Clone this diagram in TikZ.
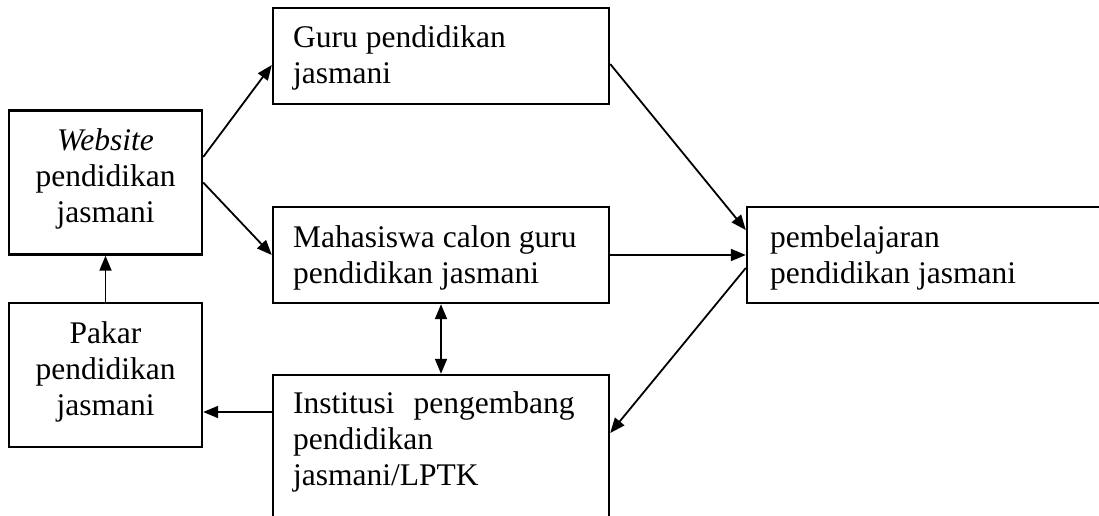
\documentclass[tikz,border=0pt]{standalone}
\usepackage{fontspec}
\setmainfont{Liberation Serif}
\usetikzlibrary{arrows.meta}
\pgfdeclarelayer{nodelayer}
\pgfdeclarelayer{edgelayer}
\pgfsetlayers{edgelayer,nodelayer,main}
\tikzset{
    sidebox/.style = {draw, line width=2.4pt, minimum width=193pt, minimum height=144pt, inner sep=0pt},
    midbox/.style = {draw, line width=2.4pt, minimum width=336pt, minimum height=96pt, inner sep=0pt},
    txt/.style = {inner sep=0pt, font=\fontsize{31.5}{36}\selectfont},
    flow/.style = {line width=1.8pt, -{Triangle[length=15pt, width=12pt]}},
    flowboth/.style = {line width=1.8pt, {Triangle[length=15pt, width=12pt]}-{Triangle[length=15pt, width=12pt]}}
}

\begin{document}
\begin{tikzpicture}[x=1pt, y=-1pt]
    \clip (0, 0) rectangle (1099, 516);
    \begin{pgfonlayer}{nodelayer}
        \node [style=sidebox] (0) at (105.5, 182.5) {};
        \node [style=sidebox] (1) at (105.5, 375) {};
        \node [style=midbox] (2) at (441, 56) {};
        \node [style=midbox] (3) at (441, 255) {};
        \node [style=midbox, minimum height=150pt] (4) at (441, 450) {};
        \node [style=midbox, minimum width=373pt] (5) at (933.5, 255) {};
        % anchor base = baseline of the last line
        \node [style=txt, align=center, anchor=base] (6) at (105.5, 222) {\textit{Website}\\pendidikan\\jasmani};
        \node [style=txt, align=center, anchor=base] (7) at (105.5, 415) {Pakar\\pendidikan\\jasmani};
        \node [style=txt, align=left, anchor=base west] (8) at (293, 84) {Guru pendidikan\\jasmani};
        \node [style=txt, align=left, anchor=base west] (9) at (293, 283) {Mahasiswa calon guru\\pendidikan jasmani};
        \node [style=txt, align=left, anchor=base west] (10) at (293, 485) {Institusi\hspace{0.6em}pengembang\\pendidikan\\jasmani/LPTK};
        \node [style=txt, align=left, anchor=base west] (11) at (770, 283) {pembelajaran\\pendidikan jasmani};
    \end{pgfonlayer}
    \begin{pgfonlayer}{edgelayer}
        \draw [style=flow] ([yshift=25.5pt]0.east) to ([yshift=-9pt]2.west);
        \draw [style=flow] (0.east) to (3.west);
        \draw [style=flow] (1.north) to (0.south);
        \draw [style=flowboth] (3.south) to (4.north);
        \draw [style=flow] ([yshift=38pt]4.west) to ([yshift=-37pt]1.east);
        \draw [style=flow] ([yshift=-8pt]2.east) to ([yshift=25pt]5.west);
        \draw [style=flow] (3.east) to (5.west);
        \draw [style=flow] ([yshift=-13pt]5.west) to ([yshift=17pt]4.east);
    \end{pgfonlayer}
\end{tikzpicture}
\end{document}
